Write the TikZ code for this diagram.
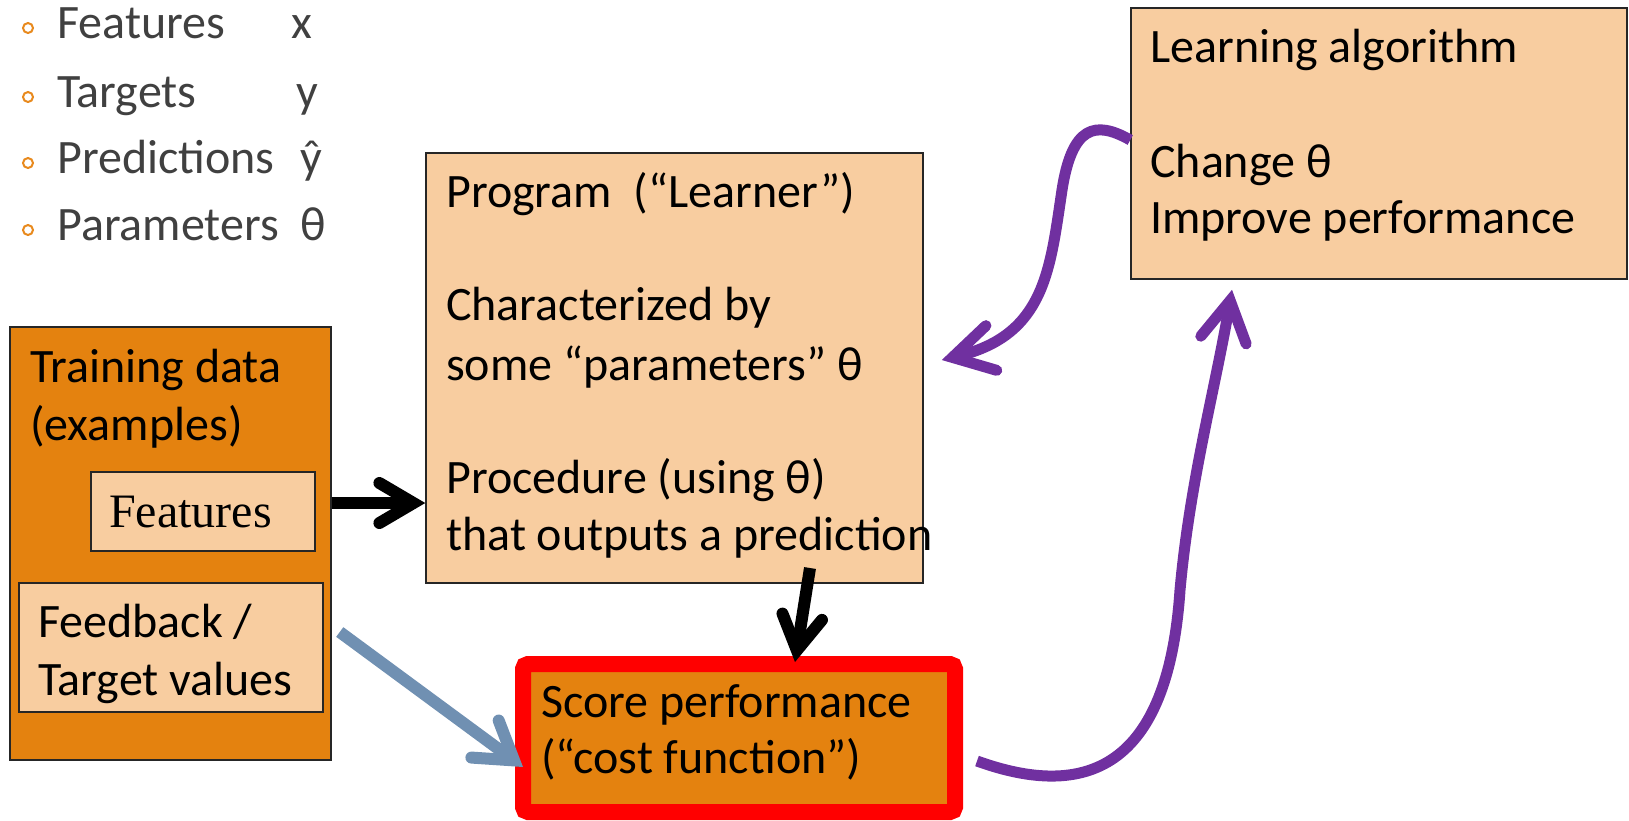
\documentclass[tikz,border=0pt]{standalone}
\usepackage{fontspec}
\setmainfont{Carlito}
\newfontfamily\serifF{Liberation Serif}
\usetikzlibrary{arrows.meta,calc}
\definecolor{lightor}{HTML}{F8CDA0}
\definecolor{darkor}{HTML}{E4820F}
\definecolor{purp}{HTML}{7030A0}
\definecolor{bluegray}{HTML}{7090B2}
\definecolor{txtgray}{HTML}{404040}
\definecolor{bulor}{HTML}{E88A1E}
\begin{document}
\begin{tikzpicture}[x=1pt,y=-1pt,
  box/.style={draw=black!85, line width=1.5pt, inner sep=0pt, rectangle},
  lbox/.style={box, fill=lightor},
  dbox/.style={box, fill=darkor},
  txt/.style={anchor=base west, inner sep=0pt, font=\fontsize{48}{57}\selectfont},
  gtxt/.style={txt, text=txtgray},
  bul/.style={circle, draw=bulor, line width=2pt, minimum size=10pt, inner sep=0pt},
  chev/.style 2 args={-{Straight Barb[length=#1,width=#2,line cap=round,line join=miter]}},
  blk/.style={draw=black, line width=12pt, chev={34pt}{40pt}},
  purparrow/.style={draw=purp, line width=11pt, chev={40pt}{46pt}},
  bluearrow/.style={draw=bluegray, line width=12pt, chev={36pt}{46pt}},
]
\useasboundingbox (0,0) rectangle (1629,820);

% bullet list
\node[bul] (b1) at (28,28) {};
\node[bul] (b2) at (28,97) {};
\node[bul] (b3) at (28,163) {};
\node[bul] (b4) at (28,230) {};
\node[gtxt] (l1) at (57,38) {Features};
\node[gtxt] (l2) at (57,107) {Targets};
\node[gtxt] (l3) at (57,173) {Predictions};
\node[gtxt] (l4) at (57,240) {Parameters};
\node[gtxt] (s1) at (291,38) {x};
\node[gtxt] (s2) at (296,107) {y};
\node[gtxt] (s3) at (300,173) {ŷ};
\node[gtxt] (s4) at (300,240) {θ};

% boxes
\node[dbox, minimum width=321pt, minimum height=433pt] (train) at (170.5,543.5) {};
\node[lbox, minimum width=224pt, minimum height=79pt] (feat) at (203,511.5) {};
\node[lbox, minimum width=304pt, minimum height=129pt] (fb) at (171,647.5) {};
\node[lbox, minimum width=497pt, minimum height=430pt] (prog) at (674.5,368) {};
\node[lbox, minimum width=496pt, minimum height=271pt] (learn) at (1379,143.5) {};
\node[draw=red, fill=darkor, line width=16pt, rounded corners=5pt, inner sep=0pt,
      minimum width=432pt, minimum height=148pt] (cost) at (739,738) {};

% texts
\node[txt] (tr1) at (30,382) {Training data};
\node[txt] (tr2) at (30,440) {(examples)};
\node[txt, font=\serifF\fontsize{48}{57}\selectfont] (ft) at (109,527) {Features};
\node[txt] (fb1) at (38,637) {Feedback /};
\node[txt] (fb2) at (38,695) {Target values};
\node[txt] (pr1) at (446,207) {Program\ \ (“Learner”)};
\node[txt] (pr2) at (446,320) {Characterized by};
\node[txt] (pr3) at (446,380) {some “parameters” θ};
\node[txt] (pr4) at (446,493) {Procedure (using θ)};
\node[txt] (pr5) at (446,550) {that outputs a prediction};
\node[txt] (la1) at (1150,62) {Learning algorithm};
\node[txt] (la2) at (1150,177) {Change θ};
\node[txt] (la3) at (1150,233) {Improve performance};
\node[txt] (co1) at (541,717) {Score performance};
\node[txt] (co2) at (541,773) {(“cost function”)};

% connectors
\draw[blk] ($(train.east)+(0,-40.5)$) -- ($(prog.west)+(0,135)$);
\draw[blk] ($(prog.south)+(135.5,-15.75)$) -- ($(cost.north)+(56,6)$);
\draw[bluearrow] ($(fb.east)+(16,-15.5)$) -- ($(cost.west)+(8,29)$);
\coordinate (pmid) at (1062,190);
\draw[purparrow] ($(learn.west)+(0,-3.5)$) .. controls (1095,120) and (1072,126) .. (pmid)
   .. controls (1050,270) and (1045,335) .. ($(prog.east)+(18,-8)$);
\coordinate (qmid) at (1180,590);
\draw[purparrow] ($(cost.east)+(14,23)$) .. controls (1085,800) and (1168,770) .. (qmid)
   .. controls (1190,480) and (1215,390) .. ($(learn.south)+(-147,10)$);
\end{tikzpicture}
\end{document}
